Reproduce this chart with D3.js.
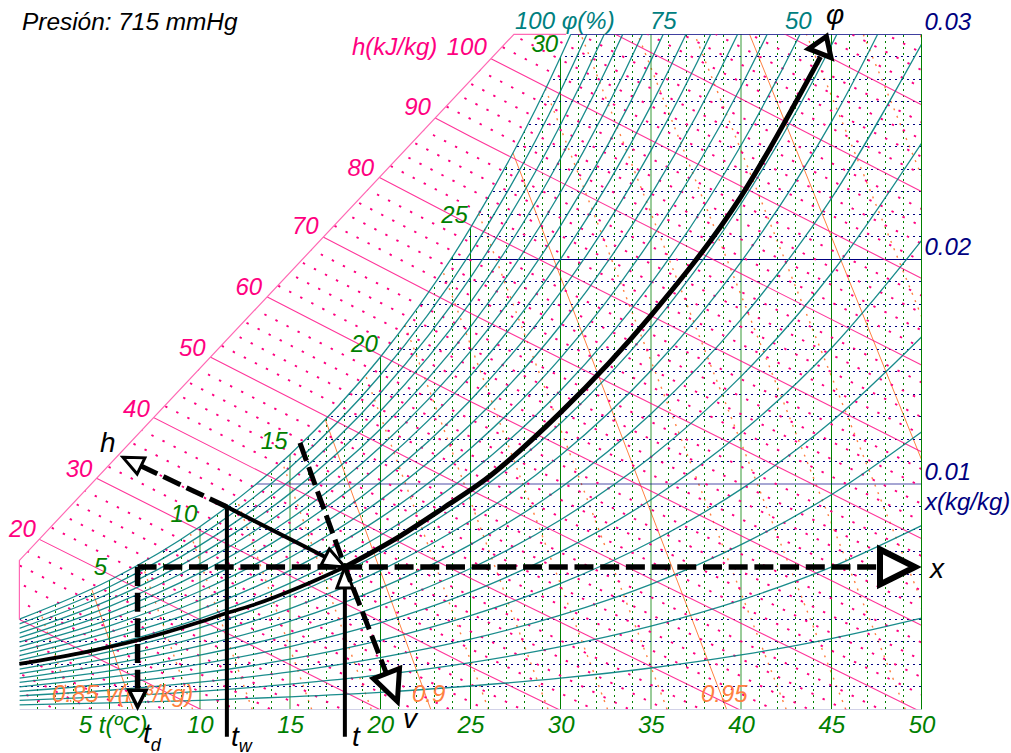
<!DOCTYPE html>
<html>
<head>
<meta charset="utf-8">
<script src="https://d3js.org/d3.v7.min.js"></script>
<style>
    body { margin: 0; background: #fff; }
    text { font-family: "Liberation Sans", Arial, sans-serif; font-style: italic; font-size: 24px; }
</style>
</head>
<body>
<script>
// temperature knots, x in g/kg for each relative humidity curve
var knots = [0, 5, 10, 15, 20, 25, 30, 35, 40, 45, 50];
var rh5 = [.20, .29, .40, .56, .76, 1.04, 1.39, 1.84, 2.42, 3.15, 4.06];
var rh10 = [.40, .57, .80, 1.12, 1.53, 2.08, 2.79, 3.70, 4.86, 6.32, 8.17];
var rh15 = [.60, .85, 1.21, 1.67, 2.30, 3.12, 4.19, 5.56, 7.32, 9.54, 12.33];
var rh20 = [.80, 1.14, 1.61, 2.23, 3.07, 4.17, 5.60, 7.44, 9.79, 12.78, 16.55];
var rh25 = [1.00, 1.43, 2.01, 2.79, 3.84, 5.21, 7.01, 9.32, 12.29, 16.05, 20.83];
var rh30 = [1.20, 1.71, 2.41, 3.35, 4.61, 6.26, 8.43, 11.22, 14.80, 19.37, 25.16];
var rh35 = [1.39, 2.00, 2.82, 3.92, 5.39, 7.32, 9.85, 13.13, 17.33, 22.7, 29.55];
var rh40 = [1.59, 2.28, 3.22, 4.48, 6.17, 8.38, 11.29, 15.05, 19.89, 26.1, 34.0];
var rh45 = [1.79, 2.57, 3.62, 5.05, 6.95, 9.45, 12.72, 16.98, 22.47, 29.5, 38.5];
var rh50 = [1.99, 2.85, 4.03, 5.61, 7.73, 10.52, 14.17, 18.92, 25.07, 32.97, 43.1];
var rh55 = [2.19, 3.14, 4.43, 6.18, 8.51, 11.59, 15.62, 20.88, 27.68, 36.45, 47.7];
var rh60 = [2.39, 3.43, 4.84, 6.75, 9.30, 12.66, 17.07, 22.85, 30.33, 40.0, 52.4];
var rh65 = [2.59, 3.71, 5.25, 7.32, 10.09, 13.74, 18.54, 24.83, 32.99, 43.5, 57.2];
var rh70 = [2.79, 4.00, 5.65, 7.89, 10.87, 14.82, 20.02, 26.82, 35.67, 47.15, 62.05];
var rh75 = [2.99, 4.29, 6.07, 8.46, 11.66, 15.91, 21.50, 28.83, 38.4, 50.8, 67];
var rh80 = [3.19, 4.58, 6.47, 9.03, 12.45, 17.0, 22.99, 30.84, 41.1, 54.5, 71.9];
var rh85 = [3.39, 4.87, 6.88, 9.60, 13.25, 18.09, 24.49, 32.87, 43.9, 58.2, 77];
var rh90 = [3.60, 5.16, 7.29, 10.17, 14.05, 19.19, 25.99, 34.91, 46.6, 62.0, 82.1];
var rh95 = [3.80, 5.45, 7.71, 10.75, 14.85, 20.29, 27.49, 36.97, 49.4, 65.8, 87.3];
var rh100 = [4.01, 5.74, 8.12, 11.33, 15.65, 21.40, 29.0, 39.04, 52.2, 69.6, 92.6];
var rhCurves = [rh5, rh10, rh15, rh20, rh25, rh30, rh35, rh40, rh45, rh50, rh55, rh60, rh65, rh70, rh75, rh80, rh85, rh90, rh95, rh100];

// enthalpy lines: x (g/kg) where each line crosses t = 0, 25 and 50
var hLevels = [2, 4, 6, 8, 10, 12, 14, 16, 18, 20, 22, 24, 26, 28, 30, 32, 34, 36, 38, 40, 42, 44, 46, 48, 50, 52, 54, 56, 58, 60, 62, 64, 66, 68, 70, 72, 74, 76, 78, 80, 82, 84, 86, 88, 90, 92, 94, 96, 98, 100, 102, 104, 106, 108, 110, 112, 114, 116, 118, 120, 122, 124, 126, 128, 130];
var hAt0 = [.80, 1.60, 2.40, 3.20, 4.00, 4.80, 5.60, 6.40, 7.20, 8.00, 8.80, 9.60, 10.40, 11.20, 12.00, 12.80, 13.59, 14.39, 15.19, 15.99, 16.79, 17.59, 18.39, 19.19, 19.99, 20.79, 21.59, 22.39, 23.19, 23.99, 24.79, 25.59, 26.39, 27.19, 27.99, 28.79, 29.59, 30.39, 31.19, 31.99, 32.79, 33.59, 34.39, 35.19, 35.99, 36.79, 37.59, 38.38, 39.18, 39.98, 40.78, 41.58, 42.38, 43.18, 43.98, 44.78, 45.58, 46.38, 47.18, 47.98, 48.78, 49.58, 50.38, 51.18, 51.98];
var hAt25 = [-9.09, -8.30, -7.52, -6.73, -5.95, -5.16, -4.38, -3.59, -2.81, -2.02, -1.24, -.45, .33, 1.12, 1.90, 2.69, 3.47, 4.26, 5.04, 5.83, 6.61, 7.40, 8.18, 8.97, 9.75, 10.54, 11.32, 12.11, 12.89, 13.68, 14.46, 15.25, 16.03, 16.82, 17.60, 18.39, 19.17, 19.96, 20.75, 21.53, 22.32, 23.10, 23.89, 24.67, 25.46, 26.24, 27.03, 27.81, 28.60, 29.38, 30.17, 30.95, 31.74, 32.52, 33.31, 34.09, 34.88, 35.66, 36.45, 37.23, 38.02, 38.80, 39.59, 40.37, 41.16];
var hAt50 = [-18.62, -17.85, -17.08, -16.31, -15.54, -14.76, -13.99, -13.22, -12.45, -11.68, -10.91, -10.14, -9.37, -8.60, -7.83, -7.05, -6.28, -5.51, -4.74, -3.97, -3.20, -2.43, -1.66, -.89, -.12, .66, 1.43, 2.20, 2.97, 3.74, 4.51, 5.28, 6.05, 6.82, 7.59, 8.37, 9.14, 9.91, 10.68, 11.45, 12.22, 12.99, 13.76, 14.53, 15.30, 16.08, 16.85, 17.62, 18.39, 19.16, 19.93, 20.70, 21.47, 22.24, 23.01, 23.79, 24.56, 25.33, 26.10, 26.87, 27.64, 28.41, 29.18, 29.95, 30.72];

// edge of the enthalpy region
var edgeT = [0, 0, 27.41, 30.3];
var edgeX = [4.0, 6.62, 30, 30];

// specific volume lines: t at x = 0 and t at x = 30 g/kg
var vLevels = [.84, .85, .86, .87, .88, .89, .90, .91, .92, .93, .94, .95, .96, .97, .98, .99, 1.0, 1.01, 1.02, 1.03];
var vTBottom = [3.0, 6.3, 9.6, 12.9, 16.2, 19.5, 22.8, 26.0, 29.3, 32.6, 35.9, 39.2, 42.5, 45.8, 49.1, 52.4, 55.6, 58.9, 62.2, 65.5];
var vTTop = [-9.71, -6.56, -3.41, -.26, 2.88, 6.03, 9.18, 12.23, 15.38, 18.53, 21.68, 24.83, 27.98, 31.12, 34.27, 37.42, 40.47, 43.62, 46.77, 49.92];

// labels
var tTicks = [5, 10, 15, 20, 25, 30, 35, 40, 45, 50];
var xTicks = [10, 20, 30];
var satLabels = [5, 10, 15, 20, 25, 30];
var satLabelX = [5.74, 8.12, 11.33, 15.65, 21.40, 29.0];
var hLabels = [20, 30, 40, 50, 60, 70, 80, 90, 100];
var hLabelT = [1.1, 4.24, 7.42, 10.52, 13.65, 16.78, 19.86, 23.0, 26.1];
var hLabelX = [7.46, 10.12, 12.79, 15.5, 18.2, 20.9, 23.5, 26.2, 28.87];

// the example point and its reading lines
var pointT = 18.04, pointX = 6.33;
var phiLowT = [0, 3.8, 6.5, 10, 11.5, 13.15, 15.55, 18.04];
var phiLowX = [2.02, 2.57, 3.06, 3.88, 4.28, 4.69, 5.44, 6.33];
var phiHighT = [18.04, 21.1, 23.5, 25.8, 30, 35, 40, 44.4];
var phiHighX = [6.33, 7.7, 8.95, 10.2, 13.2, 17.5, 22.8, 29.0];

var width = 1011, height = 753;
var t = d3.scaleLinear().domain([0, 50]).range([19.4, 921.5]);
var x = d3.scaleLinear().domain([0, 30]).range([709.4, 34.3]);

var svg = d3.select('body').append('svg')
    .attr('width', width).attr('height', height)
    .style('display', 'block');
var defs = svg.append('defs');

var curve = d3.line()
    .x(function (d) { return t(d[0]); })
    .y(function (d) { return x(d[1]); })
    .curve(d3.curveMonotoneX);
var straight = d3.line()
    .x(function (d) { return t(d[0]); })
    .y(function (d) { return x(d[1]); });

var satPoints = knots.map(function (k, i) { return [k, rh100[i]]; });
var edgePoints = edgeT.map(function (k, i) { return [k, edgeX[i]]; });

defs.append('clipPath').attr('id', 'plot').append('rect')
    .attr('x', t(0)).attr('y', x(30))
    .attr('width', t(50) - t(0)).attr('height', x(0) - x(30));
defs.append('clipPath').attr('id', 'under-sat').append('path')
    .attr('d', d3.area()
        .x(function (d) { return t(d[0]); })
        .y0(x(0))
        .y1(function (d) { return x(d[1]); })
        .curve(d3.curveMonotoneX)(satPoints));
defs.append('clipPath').attr('id', 'h-region').append('path')
    .attr('d', straight([[0, 0], [0, 6.62], [27.41, 30], [50, 30], [50, 0]]) + 'Z');

var plot = svg.append('g').attr('clip-path', 'url(#plot)');
var satGroup = plot.append('g').attr('clip-path', 'url(#under-sat)');

// specific volume
satGroup.selectAll('path.v').data(vLevels).enter().append('path')
    .attr('class', 'v')
    .attr('d', function (d, i) {
        return straight([[vTBottom[i], 0], [vTTop[i], 30]]);
    })
    .attr('fill', 'none')
    .attr('stroke', '#ff8040')
    .attr('stroke-width', function (d, i) { return i % 5 == 1 ? 1 : 1.4; })
    .attr('stroke-dasharray', function (d, i) { return i % 5 == 1 ? null : '2 6'; });

// temperature, the 10, 15, 35 and 40 lines come out wider and paler in the picture
var paleT = [10, 15, 35, 40];
satGroup.selectAll('line.t').data(d3.range(1, 51)).enter().append('line')
    .attr('class', 't')
    .attr('x1', function (d) { return t(d); })
    .attr('x2', function (d) { return t(d); })
    .attr('y1', x(0)).attr('y2', x(30))
    .attr('stroke', '#008000')
    .attr('stroke-width', function (d) { return paleT.indexOf(d) >= 0 ? 2 : 1; })
    .attr('stroke-opacity', function (d) { return paleT.indexOf(d) >= 0 ? 0.4 : 1; })
    .attr('stroke-dasharray', function (d) { return d % 5 == 0 ? null : '2 4'; })
    .attr('shape-rendering', 'crispEdges');

// humidity ratio, the 0 and 0.01 lines likewise
satGroup.selectAll('line.x').data(d3.range(0, 31)).enter().append('line')
    .attr('class', 'x')
    .attr('x1', t(0)).attr('x2', t(50))
    .attr('y1', function (d) { return x(d); })
    .attr('y2', function (d) { return x(d); })
    .attr('stroke', '#000080')
    .attr('stroke-width', function (d) { return d == 10 ? 2 : 1; })
    .attr('stroke-opacity', function (d) { return d == 10 ? 0.35 : d == 0 ? 0.7 : 1; })
    .attr('stroke-dasharray', function (d) { return d % 10 == 0 ? null : '2 4'; })
    .attr('shape-rendering', 'crispEdges');

// enthalpy
var hGroup = plot.append('g').attr('clip-path', 'url(#h-region)');
hGroup.selectAll('path').data(hLevels).enter().append('path')
    .attr('d', function (d, i) {
        return curve([[0, hAt0[i]], [25, hAt25[i]], [50, hAt50[i]]]);
    })
    .attr('fill', 'none')
    .attr('stroke', '#ff0080')
    .attr('stroke-width', function (d) { return d % 10 == 0 ? 1.1 : 1.9; })
    .attr('stroke-opacity', function (d) { return d % 10 == 0 ? 0.8 : 1; })
    .attr('stroke-dasharray', function (d) { return d % 10 == 0 ? null : '2.4 10'; })
    .attr('stroke-dashoffset', function (d) { return d * 2.3; });

// relative humidity
plot.append('g').selectAll('path').data(rhCurves).enter().append('path')
    .attr('d', function (row) {
        return curve(knots.map(function (k, i) { return [k, row[i]]; }));
    })
    .attr('fill', 'none')
    .attr('stroke', '#008080')
    .attr('stroke-width', 1.3)
    .attr('stroke-opacity', 0.9);

// outer edge of the enthalpy region
svg.append('path')
    .attr('d', straight(edgePoints))
    .attr('fill', 'none')
    .attr('stroke', '#ff69b4')
    .attr('stroke-width', 1.2);
svg.append('line')
    .attr('x1', t(50)).attr('x2', t(50))
    .attr('y1', x(0)).attr('y2', x(30))
    .attr('stroke', '#008000').attr('stroke-width', 1);

// axis labels
var bottom = d3.axisBottom(t).tickValues(tTicks).tickSize(0)
    .tickFormat(function (d) { return d == 5 ? '5 t(ºC)' : d; });
var bottomG = svg.append('g').attr('transform', 'translate(0,' + x(0) + ')').call(bottom);
bottomG.select('.domain').remove();
bottomG.selectAll('text')
    .attr('fill', '#008000')
    .attr('y', 24).attr('dy', 0)
    .attr('dx', function (d) { return d == 5 ? 3 : 0; });

var right = d3.axisRight(x).tickValues(xTicks).tickSize(0)
    .tickFormat(function (d) { return d3.format('.2f')(d / 1000); });
var rightG = svg.append('g').attr('transform', 'translate(' + t(50) + ',0)').call(right);
rightG.select('.domain').remove();
rightG.selectAll('text')
    .attr('fill', '#000080')
    .attr('x', 3).attr('y', -5).attr('dy', 0);

svg.selectAll('text.sat').data(satLabels).enter().append('text')
    .attr('class', 'sat')
    .attr('x', function (d, i) { return t(d) - 2.5; })
    .attr('y', function (d, i) { return x(satLabelX[i]) - 5; })
    .attr('text-anchor', 'end')
    .attr('fill', '#008000')
    .text(function (d) { return d; });

svg.selectAll('text.h').data(hLabels).enter().append('text')
    .attr('class', 'h')
    .attr('x', function (d, i) { return t(hLabelT[i]) - 3.5; })
    .attr('y', function (d, i) { return x(hLabelX[i]) - 5; })
    .attr('text-anchor', 'end')
    .attr('fill', '#ff0080')
    .text(function (d) { return d; });

function label(px, py, str, color, size) {
    return svg.append('text')
        .attr('x', px).attr('y', py)
        .attr('fill', color)
        .style('font-size', (size || 24) + 'px')
        .text(str);
}
label(22, 30, 'Presión: 715 mmHg', '#000', 24.4);
label(352, 55, 'h(kJ/kg)', '#ff0080');
label(515, 29, '100 φ(%)', '#008080');
label(650, 29, '75', '#008080');
label(785, 29, '50', '#008080');
label(925, 510, 'x(kg/kg)', '#000080');
label(52, 702, '0.85 v(m³/kg)', '#ff8040');
label(412, 702, '0.9', '#ff8040');
label(701, 702, '0.95', '#ff8040');

// reading lines with open arrow heads
function head(tip, from, len, half, sw) {
    var dx = tip[0] - from[0], dy = tip[1] - from[1];
    var n = Math.sqrt(dx * dx + dy * dy);
    dx /= n; dy /= n;
    var bx = tip[0] - dx * len, by = tip[1] - dy * len;
    svg.append('path')
        .attr('d', 'M' + tip + 'L' + [bx - dy * half, by + dx * half] + 'L' + [bx + dy * half, by - dx * half] + 'Z')
        .attr('fill', '#fff')
        .attr('stroke', '#000')
        .attr('stroke-width', sw)
        .attr('stroke-linejoin', 'miter');
}
function reading(points, opts) {
    var px = points.map(function (d) { return [t(d[0]), x(d[1])]; });
    var tip = px[px.length - 1], prev = px[px.length - 2];
    var dx = tip[0] - prev[0], dy = tip[1] - prev[1];
    var n = Math.sqrt(dx * dx + dy * dy);
    var end = [tip[0] - dx / n * opts.len, tip[1] - dy / n * opts.len];
    svg.append('path')
        .attr('d', d3.line()(px.slice(0, -1).concat([end])))
        .attr('fill', 'none')
        .attr('stroke', '#000')
        .attr('stroke-width', opts.width)
        .attr('stroke-dasharray', opts.dash || null);
    head(tip, prev, opts.len, opts.half, opts.sw);
}
function phiPath(ts, xs, w) {
    svg.append('path')
        .attr('d', curve(ts.map(function (k, i) { return [k, xs[i]]; })))
        .attr('fill', 'none')
        .attr('stroke', '#000')
        .attr('stroke-width', w);
}
phiPath(phiLowT, phiLowX, 3.7);
phiPath(phiHighT, phiHighX, 5);
head([t(44.73), x(29.9)], [t(43.9), x(28.2)], 18, 12, 5);

var dash = '19 6.7';
reading([[6.55, pointX], [49.64, pointX]], { width: 5.5, dash: dash, len: 35, half: 17.5, sw: 6 });
reading([[6.55, pointX], [6.55, 0.1]], { width: 5.5, dash: dash, len: 17, half: 8.5, sw: 3.5 });
reading([[11.5, -1.22], [11.5, 9.0], [pointT, pointX]], { width: 4, len: 22, half: 9, sw: 3 });
reading([[11.5, 9.0], [5.74, 11.2]], { width: 5, dash: dash, len: 20, half: 9, sw: 3 });
reading([[pointT, -1.22], [pointT, pointX]], { width: 4, len: 21, half: 8, sw: 3 });
reading([[15.55, 11.84], [pointT, pointX], [20.95, 0.35]], { width: 5, dash: dash, len: 30, half: 14, sw: 5 });

label(100, 452, 'h', '#000', 28);
label(826, 24, 'φ', '#000', 28);
label(930, 578, 'x', '#000', 28);
label(403, 728, 'v', '#000', 28);
label(352, 746, 't', '#000', 28);
label(143, 743, 't', '#000', 28).append('tspan').attr('dy', 8).style('font-size', '18px').text('d');
label(231, 746, 't', '#000', 28).append('tspan').attr('dy', 6).style('font-size', '18px').text('w');
</script>
</body>
</html>
